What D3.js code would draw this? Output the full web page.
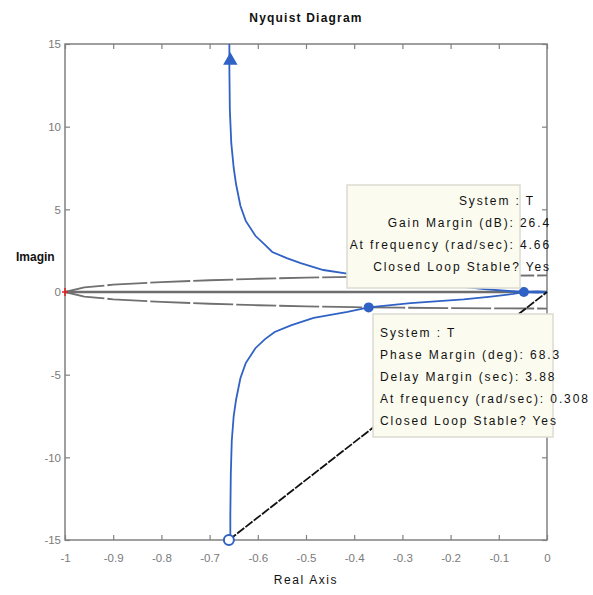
<!DOCTYPE html>
<html><head><meta charset="utf-8">
<script src="https://cdn.jsdelivr.net/npm/d3@7"></script>
<style>
body{margin:0;background:#fff;}
text{font-family:"Liberation Sans",Arial,sans-serif;}
</style></head>
<body><svg id="c" width="593" height="595"></svg>
<script>
// ---- data ----
const xTicks = [-1,-0.9,-0.8,-0.7,-0.6,-0.5,-0.4,-0.3,-0.2,-0.1,0];
const xTickLabels = ["-1","-0.9","-0.8","-0.7","-0.6","-0.5","-0.4","-0.3","-0.2","-0.1","0"];
const yTicks = [-15,-10,-5,0,5,10,15];
const yTickLabels = ["-15","-10","-5","0","5","10","15"];

// negative-frequency branch (from +j inf to origin)
const upperRe = [-0.659,-0.659,-0.658,-0.655,-0.650,-0.645,-0.636,-0.625,-0.605,-0.585,-0.570,-0.540,-0.511,-0.464,-0.418,-0.370,-0.280,-0.200,-0.130,-0.080,-0.048,-0.020,0];
const upperIm = [15,13.6,11,9,7.5,6.5,5.2,4.3,3.4,2.85,2.42,2.05,1.75,1.33,1.12,0.93,0.62,0.38,0.18,0.06,0,-0.03,0];
// positive-frequency branch (from -j inf to origin)
const lowerRe = [-0.657,-0.657,-0.656,-0.654,-0.650,-0.645,-0.636,-0.625,-0.605,-0.585,-0.565,-0.530,-0.484,-0.449,-0.414,-0.370,-0.283,-0.173,-0.116,-0.070,-0.048,-0.020,0];
const lowerIm = [-15,-13.5,-11,-9,-7.5,-6.5,-5.2,-4.3,-3.4,-2.85,-2.42,-2.0,-1.57,-1.39,-1.2,-0.93,-0.67,-0.45,-0.28,-0.12,0,0.03,0];
// unit circle guide
const circRe = [-1,-0.96,-0.9,-0.8,-0.7,-0.6,-0.5,-0.4,-0.3,-0.2,-0.1,0];
const circUpIm = [0,0.28,0.44,0.6,0.71,0.8,0.87,0.92,0.95,0.98,0.99,1.0];
const circLoIm = [0,-0.28,-0.44,-0.6,-0.71,-0.8,-0.87,-0.92,-0.95,-0.98,-0.99,-1.0];
// characteristic points
const gmPoint = [-0.048, 0];
const pmPoint = [-0.370, -0.93];
const startMarker = [-0.657, 14.0];
const endMarker = [-0.660, -15];
const criticalPoint = [-1, 0];
const gmText = ["System : T","Gain Margin (dB): 26.4","At frequency (rad/sec): 4.66","Closed Loop Stable? Yes"];
const pmText = ["System : T","Phase Margin (deg): 68.3","Delay Margin (sec): 3.88","At frequency (rad/sec): 0.308","Closed Loop Stable? Yes"];

// ---- drawing ----
const svg = d3.select("#c");
const L=65,R=547,T=44,B=540;
const x = d3.scaleLinear([-1,0],[L,R]);
const y = d3.scaleLinear([-15,15],[B,T]);
const axisCol="#808080", blue="#2f62c4";

const gAx = svg.append("g");
gAx.append("rect").attr("x",L).attr("y",T).attr("width",R-L).attr("height",B-T)
  .attr("fill","none").attr("stroke",axisCol).attr("stroke-width",1.5);

function styleAxis(g){
  g.select(".domain").remove();
  g.selectAll(".tick line").attr("stroke",axisCol).attr("stroke-width",1.2);
  g.selectAll(".tick text").attr("fill","#7a7a7a").attr("font-size",11.5).style("font-family","Liberation Sans, Arial, sans-serif");
}
gAx.append("g").attr("transform",`translate(0,${B})`)
  .call(d3.axisBottom(x).tickValues(xTicks).tickFormat((d,i)=>xTickLabels[i]).tickSize(-5).tickPadding(14)).call(styleAxis);
gAx.append("g").attr("transform",`translate(0,${T})`)
  .call(d3.axisTop(x).tickValues(xTicks).tickFormat("").tickSize(-5)).call(styleAxis);
gAx.append("g").attr("transform",`translate(${L},0)`)
  .call(d3.axisLeft(y).tickValues(yTicks).tickFormat((d,i)=>yTickLabels[i]).tickSize(-5).tickPadding(4)).call(styleAxis);
gAx.append("g").attr("transform",`translate(${R},0)`)
  .call(d3.axisRight(y).tickValues(yTicks).tickFormat("").tickSize(-5)).call(styleAxis);

const line = d3.line().x(d=>x(d[0])).y(d=>y(d[1]));
const zip=(a,b)=>a.map((v,i)=>[v,b[i]]);

// real-axis guide
svg.append("path").attr("d",line([[-1,0],[0,0]])).attr("stroke","#6e6e6e").attr("stroke-width",2.5).attr("fill","none");
// unit circle
[circUpIm,circLoIm].forEach(im=>{
  svg.append("path").attr("d",line(zip(circRe,im))).attr("stroke","#707070").attr("stroke-width",1.8)
    .attr("fill","none").attr("stroke-dasharray","40,3");
});
// nyquist branches
[[upperRe,upperIm],[lowerRe,lowerIm]].forEach(([re,im])=>{
  svg.append("path").attr("d",line(zip(re,im))).attr("stroke",blue).attr("stroke-width",1.8).attr("fill","none");
});
// black line from end marker to origin
svg.append("path").attr("d",line([endMarker,[0,0]])).attr("stroke","#111").attr("stroke-width",1.8)
  .attr("fill","none").attr("stroke-dasharray","9,1.5");

// markers
svg.append("path").attr("d",d3.symbol(d3.symbolTriangle,90)())
  .attr("transform",`translate(${x(startMarker[0])},${y(startMarker[1])})`).attr("fill",blue);
svg.append("circle").attr("cx",x(endMarker[0])).attr("cy",y(endMarker[1])).attr("r",5)
  .attr("fill","#fff").attr("stroke",blue).attr("stroke-width",2);
[gmPoint,pmPoint].forEach(p=>{
  svg.append("circle").attr("cx",x(p[0])).attr("cy",y(p[1])).attr("r",5).attr("fill",blue);
});
// critical point
const cp = svg.append("g").attr("transform",`translate(${x(criticalPoint[0])},${y(criticalPoint[1])})`);
cp.append("line").attr("x1",-3).attr("x2",3).attr("stroke","#e02020").attr("stroke-width",1.5);
cp.append("line").attr("y1",-4).attr("y2",4).attr("stroke","#e02020").attr("stroke-width",1.5);

// datatip boxes
function tip(bx,by,bw,bh,lines,tx,ty,anchor){
  svg.append("rect").attr("x",bx).attr("y",by).attr("width",bw).attr("height",bh)
    .attr("fill","#fbfbef").attr("stroke","#dcdcd2").attr("stroke-width",1.5);
  lines.forEach((s,i)=>{
    svg.append("text").attr("x",Array.isArray(tx)?tx[i]:tx).attr("y",ty+i*22).attr("text-anchor",anchor)
      .attr("font-size",12).attr("letter-spacing",1.9).attr("fill","#111").text(s);
  });
}
tip(347,185,173,103,gmText,[535,551,551,551],205,"end");
tip(373,314,180,123,pmText,380,337,"start");

// titles
svg.append("text").attr("x",(L+R)/2).attr("y",22).attr("text-anchor","middle").attr("font-size",12)
  .attr("letter-spacing",1.2).attr("font-weight","bold").attr("fill","#111").text("Nyquist Diagram");
svg.append("text").attr("x",(L+R)/2).attr("y",584).attr("text-anchor","middle").attr("font-size",12)
  .attr("letter-spacing",1.6).attr("fill","#111").text("Real Axis");
svg.append("text").attr("x",16).attr("y",261).attr("font-size",12).attr("font-weight","bold")
  .attr("fill","#111").text("Imagin");
</script></body></html>
